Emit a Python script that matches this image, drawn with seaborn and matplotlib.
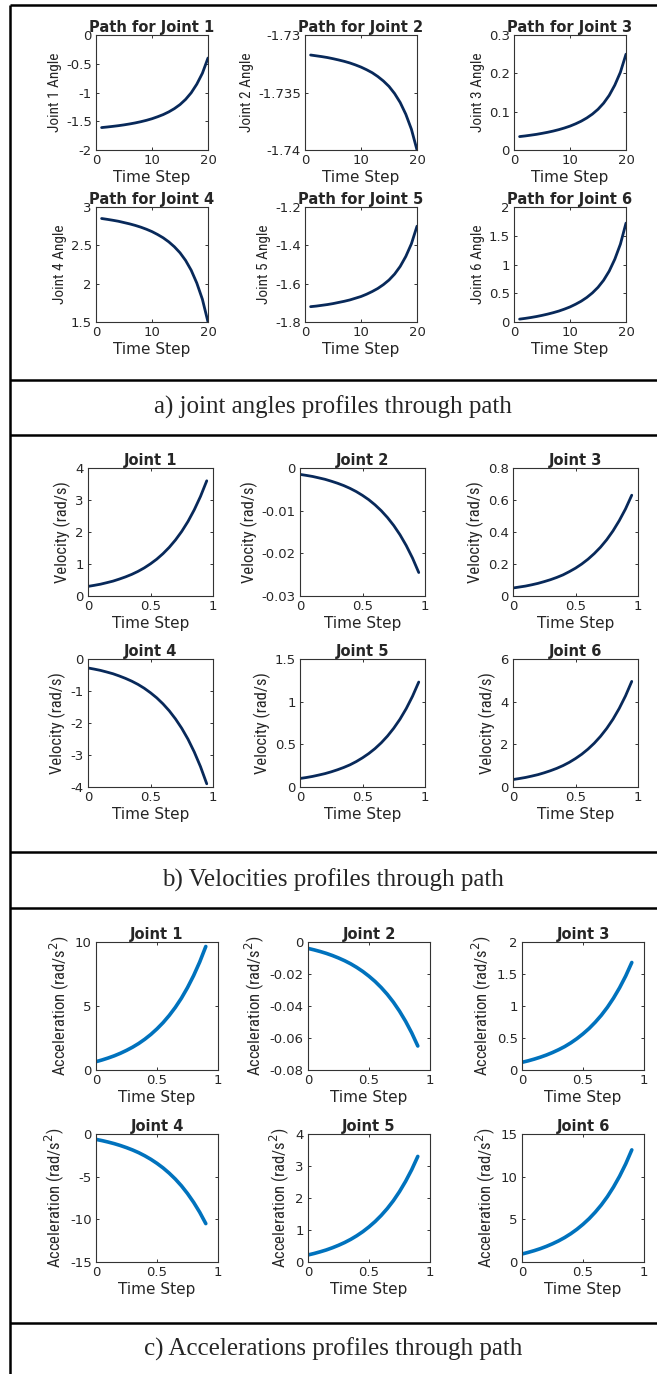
import numpy as np
import pandas as pd
import matplotlib
matplotlib.use('Agg')
import matplotlib.pyplot as plt
import seaborn as sns
from matplotlib.lines import Line2D
from matplotlib.ticker import FuncFormatter
from matplotlib import font_manager

# ---- dados ----
passos_a = [1, 2, 3, 4, 5, 6, 7, 8, 9, 10, 11, 12, 13, 14, 15, 16, 17, 18, 19, 20]
tempo_b = [0, 0.05, 0.1, 0.15, 0.2, 0.25, 0.3, 0.35, 0.4, 0.45,
           0.5, 0.55, 0.6, 0.65, 0.7, 0.75, 0.8, 0.85, 0.9, 0.95]
tempo_c = [0, 0.05, 0.1, 0.15, 0.2, 0.25, 0.3, 0.35, 0.4, 0.45,
           0.5, 0.55, 0.6, 0.65, 0.7, 0.75, 0.8, 0.85, 0.9]

angulo_j1 = [-1.610, -1.600, -1.589, -1.577, -1.563, -1.547, -1.529, -1.508, -1.484, -1.456,
             -1.422, -1.384, -1.337, -1.280, -1.210, -1.120, -1.005, -0.855, -0.665, -0.400]
angulo_j2 = [-1.73174, -1.73181, -1.73188, -1.73196, -1.73206, -1.73217, -1.73229, -1.73243, -1.73260, -1.73279,
             -1.73302, -1.73328, -1.73361, -1.73400, -1.73447, -1.73509, -1.73587, -1.73689, -1.73819, -1.74000]
angulo_j3 = [0.035, 0.0367, 0.0387, 0.0408, 0.0434, 0.0462, 0.0494, 0.0531, 0.0574, 0.0623,
             0.0683, 0.0752, 0.0836, 0.0937, 0.1062, 0.1221, 0.1425, 0.1692, 0.2029, 0.250]
angulo_j4 = [2.850, 2.839, 2.827, 2.814, 2.797, 2.780, 2.760, 2.737, 2.710, 2.679,
             2.641, 2.598, 2.545, 2.481, 2.403, 2.303, 2.175, 2.008, 1.796, 1.500]
angulo_j5 = [-1.720, -1.717, -1.713, -1.709, -1.704, -1.698, -1.692, -1.685, -1.676, -1.667,
             -1.655, -1.641, -1.625, -1.605, -1.581, -1.550, -1.510, -1.458, -1.392, -1.300]
angulo_j6 = [0.050, 0.063, 0.078, 0.095, 0.115, 0.137, 0.162, 0.190, 0.224, 0.262,
             0.309, 0.362, 0.427, 0.506, 0.603, 0.726, 0.885, 1.092, 1.354, 1.720]

velocidade_j1 = [0.300, 0.333, 0.369, 0.416, 0.465, 0.528, 0.597, 0.676, 0.769, 0.878,
                 1.006, 1.151, 1.323, 1.521, 1.752, 2.019, 2.330, 2.693, 3.112, 3.600]
velocidade_j2 = [-0.00150, -0.00173, -0.00198, -0.00231, -0.00265, -0.00309, -0.00357, -0.00412, -0.00477, -0.00553,
                 -0.00642, -0.00743, -0.00863, -0.01001, -0.01162, -0.01348, -0.01565, -0.01818, -0.02110, -0.02450]
velocidade_j3 = [0.050, 0.056, 0.062, 0.070, 0.079, 0.090, 0.102, 0.116, 0.132, 0.152,
                 0.174, 0.200, 0.230, 0.265, 0.305, 0.352, 0.407, 0.471, 0.544, 0.630]
velocidade_j4 = [-0.280, -0.316, -0.356, -0.407, -0.461, -0.530, -0.606, -0.693, -0.794, -0.914,
                 -1.055, -1.214, -1.402, -1.619, -1.873, -2.166, -2.506, -2.905, -3.364, -3.900]
velocidade_j5 = [0.100, 0.111, 0.124, 0.140, 0.157, 0.178, 0.202, 0.229, 0.260, 0.298,
                 0.342, 0.392, 0.450, 0.518, 0.597, 0.689, 0.795, 0.919, 1.063, 1.230]
velocidade_j6 = [0.350, 0.396, 0.447, 0.511, 0.580, 0.667, 0.764, 0.874, 1.003, 1.155,
                 1.334, 1.537, 1.776, 2.052, 2.374, 2.747, 3.179, 3.685, 4.269, 4.950]

aceleracao_j1 = [0.650, 0.785, 0.938, 1.109, 1.307, 1.532, 1.784, 2.072, 2.405, 2.783,
                 3.215, 3.701, 4.259, 4.889, 5.609, 6.437, 7.373, 8.435, 9.650]
aceleracao_j2 = [-0.00400, -0.00492, -0.00595, -0.00711, -0.00845, -0.00998, -0.01169, -0.01364, -0.01590, -0.01846,
                 -0.02139, -0.02468, -0.02846, -0.03273, -0.03761, -0.04322, -0.04957, -0.05677, -0.06500]
aceleracao_j3 = [0.120, 0.143, 0.170, 0.200, 0.234, 0.273, 0.317, 0.366, 0.424, 0.490,
                 0.565, 0.649, 0.746, 0.855, 0.980, 1.123, 1.285, 1.469, 1.680]
aceleracao_j4 = [-0.630, -0.778, -0.946, -1.133, -1.351, -1.597, -1.874, -2.189, -2.555, -2.969,
                 -3.443, -3.976, -4.588, -5.279, -6.068, -6.976, -8.003, -9.168, -10.500]
aceleracao_j5 = [0.220, 0.266, 0.319, 0.377, 0.445, 0.522, 0.608, 0.707, 0.821, 0.950,
                 1.098, 1.264, 1.455, 1.671, 1.917, 2.200, 2.521, 2.884, 3.300]
aceleracao_j6 = [0.940, 1.123, 1.330, 1.562, 1.831, 2.136, 2.477, 2.868, 3.319, 3.831,
                 4.417, 5.076, 5.832, 6.686, 7.662, 8.785, 10.053, 11.493, 13.140]

ticks_y_a = [[-2, -1.5, -1, -0.5, 0], [-1.74, -1.735, -1.73], [0, 0.1, 0.2, 0.3],
             [1.5, 2, 2.5, 3], [-1.8, -1.6, -1.4, -1.2], [0, 0.5, 1, 1.5, 2]]
ticks_y_b = [[0, 1, 2, 3, 4], [-0.03, -0.02, -0.01, 0], [0, 0.2, 0.4, 0.6, 0.8],
             [-4, -3, -2, -1, 0], [0, 0.5, 1, 1.5], [0, 2, 4, 6]]
ticks_y_c = [[0, 5, 10], [-0.08, -0.06, -0.04, -0.02, 0], [0, 0.5, 1, 1.5, 2],
             [-15, -10, -5, 0], [0, 1, 2, 3, 4], [0, 5, 10, 15]]

titulos_a = ['Path for Joint %d' % i for i in range(1, 7)]
titulos_bc = ['Joint %d' % i for i in range(1, 7)]
rotulos_a = ['Joint %d Angle' % i for i in range(1, 7)]

legendas = ['a) joint angles profiles through path',
            'b) Velocities profiles through path',
            'c) Accelerations profiles through path']

# ---- estilo ----
sns.set_style("ticks")
plt.rcParams['font.family'] = ['DejaVu Sans']
plt.rcParams['axes.unicode_minus'] = False

# fonte estreita para os rotulos do eixo y (se existir)
instaladas = {f.name for f in font_manager.fontManager.ttflist}
FONTE_ESTREITA = 'Liberation Sans'
for nome in ['Liberation Sans Narrow', 'Roboto Condensed', 'Open Sans Condensed', 'Liberation Sans']:
    if nome in instaladas:
        FONTE_ESTREITA = nome
        break
ESTREITA_REAL = FONTE_ESTREITA != 'Liberation Sans'

W, H = 657, 1374
fig = plt.figure(figsize=(W / 100, H / 100), dpi=100)
fig.patch.set_facecolor('white')

COR_ESCURA = '#08295a'
COR_MATLAB = '#0072BD'
CINZA = '#333333'


def caixa(x, y, w, h):
    return [x / W, 1 - (y + h) / H, w / W, h / H]


def fmt(v, p):
    return f'{v:g}'


def desenhar_painel(tempo, series, titulos, rotulos_y, ticks_y, xlim, xticks,
                    esquerdas, topos, largura, altura, cor, lw, tam_y):
    for i in range(6):
        lin, col = divmod(i, 3)
        ax = fig.add_axes(caixa(esquerdas[col], topos[lin], largura, altura))
        df = pd.DataFrame({'t': tempo, 'v': series[i]})
        sns.lineplot(data=df, x='t', y='v', ax=ax, color=cor, linewidth=lw)
        ax.set_xlim(*xlim)
        ax.set_xticks(xticks)
        ax.set_ylim(ticks_y[i][0], ticks_y[i][-1])
        ax.set_yticks(ticks_y[i])
        ax.xaxis.set_major_formatter(FuncFormatter(fmt))
        ax.yaxis.set_major_formatter(FuncFormatter(fmt))
        ax.tick_params(direction='in', top=True, right=True, length=2.5, width=0.7,
                       labelsize=9.5, colors=CINZA, labelcolor='#262626', pad=3)
        for s in ax.spines.values():
            s.set_color(CINZA)
            s.set_linewidth(0.8)
        ax.set_title(titulos[i], fontweight='bold', fontsize=10.5, pad=2)
        ax.set_xlabel('Time Step', fontsize=11, color='#262626', labelpad=2)
        ax.set_ylabel(rotulos_y[i], family=[FONTE_ESTREITA, 'DejaVu Sans'],
                      fontsize=tam_y if ESTREITA_REAL else tam_y * 0.85,
                      color='#262626', labelpad=3)


desenhar_painel(passos_a,
                [angulo_j1, angulo_j2, angulo_j3, angulo_j4, angulo_j5, angulo_j6],
                titulos_a, rotulos_a, ticks_y_a, (0, 20), [0, 10, 20],
                [96, 305, 514], [35, 207], 112, 115, COR_ESCURA, 2.0, 11)

desenhar_painel(tempo_b,
                [velocidade_j1, velocidade_j2, velocidade_j3, velocidade_j4, velocidade_j5, velocidade_j6],
                titulos_bc, ['Velocity (rad/s)'] * 6, ticks_y_b, (0, 1), [0, 0.5, 1],
                [88, 300, 513], [468, 659], 125, 128, COR_ESCURA, 2.0, 12)

desenhar_painel(tempo_c,
                [aceleracao_j1, aceleracao_j2, aceleracao_j3, aceleracao_j4, aceleracao_j5, aceleracao_j6],
                titulos_bc, ['Acceleration (rad/s$^2$)'] * 6, ticks_y_c, (0, 1), [0, 0.5, 1],
                [96, 308, 522], [942, 1134], 122, 128, COR_MATLAB, 2.6, 12)

# ---- moldura da tabela ----
def linha(x0, y0, x1, y1):
    fig.add_artist(Line2D([x0 / W, x1 / W], [1 - y0 / H, 1 - y1 / H], color='black',
                          lw=1.8, transform=fig.transFigure, solid_capstyle='butt'))

linha(10, 5, W, 5)
linha(10, 5, 10, H)
for y in [380, 435, 852, 908, 1323]:
    linha(10, y, W, y)

for texto, y in zip(legendas, [407, 880, 1349]):
    fig.text(333 / W, 1 - y / H, texto, ha='center', va='center',
             family=['Liberation Serif', 'DejaVu Serif'], fontsize=18)

fig.savefig('out.png', dpi=100)
